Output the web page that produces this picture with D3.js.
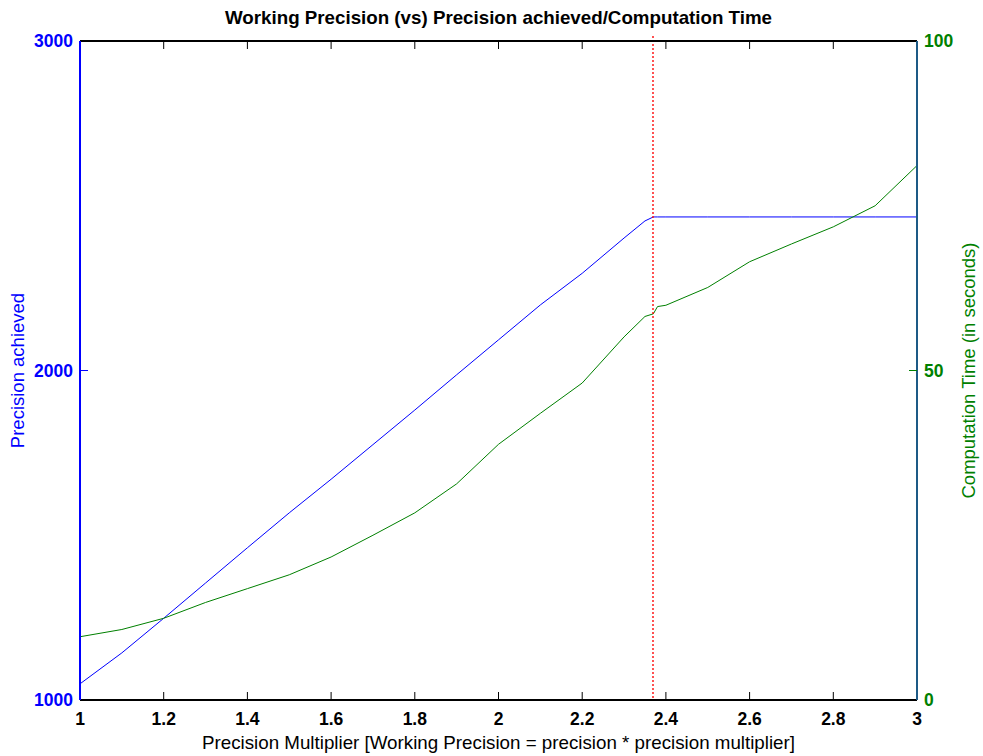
<!DOCTYPE html>
<html>
<script src='https://d3js.org/d3.v7.min.js'></script>
<style>
  body { margin: 0; background: #fff; }
  text { font-family: 'Liberation Sans', Arial, sans-serif; }
</style>
<body>
<div id='vis'></div>
<script>
// precision multiplier samples
const multipliers = [1, 1.1, 1.2, 1.3, 1.4, 1.5, 1.6, 1.7, 1.8, 1.9, 2.0, 2.1, 2.2, 2.3, 2.35, 2.37, 2.38, 2.4, 2.5, 2.6, 2.7, 2.8, 2.9, 3.0];
// precision achieved (left axis)
const precision = [1049, 1143, 1248, 1355, 1462, 1568, 1670, 1775, 1880, 1987, 2093, 2199, 2295, 2402, 2454, 2466, 2466, 2466, 2466, 2466, 2466, 2466, 2466, 2466];
// computation time in seconds (right axis)
const compTime = [9.6, 10.7, 12.4, 14.8, 16.9, 19.0, 21.7, 25.0, 28.4, 32.8, 38.8, 43.5, 48.1, 55.1, 58.2, 58.6, 59.7, 59.9, 62.6, 66.5, 69.2, 71.8, 75.0, 81.1];
const cutoff = 2.37;

const xTicks = [1, 1.2, 1.4, 1.6, 1.8, 2, 2.2, 2.4, 2.6, 2.8, 3];
const leftTicks = [1000, 2000, 3000];
const rightTicks = [0, 50, 100];

const W = 983, H = 756;
const m = {top: 41, right: 66, bottom: 56, left: 80};
const iw = W - m.left - m.right, ih = H - m.top - m.bottom;

const svg = d3.select('#vis').append('svg').attr('width', W).attr('height', H);
const g = svg.append('g').attr('transform', `translate(${m.left},${m.top})`);

const x = d3.scaleLinear().domain([1, 3]).range([0, iw]);
const yL = d3.scaleLinear().domain([1000, 3000]).range([ih, 0]);
const yR = d3.scaleLinear().domain([0, 100]).range([ih, 0]);

const blue = '#0000ff', green = '#008000';

// lines
g.append('path').datum(multipliers)
  .attr('fill', 'none').attr('stroke', blue).attr('stroke-width', 1)
  .attr('d', d3.line().x(d => x(d)).y((d, i) => yL(precision[i])));
g.append('path').datum(multipliers)
  .attr('fill', 'none').attr('stroke', green).attr('stroke-width', 1)
  .attr('d', d3.line().x(d => x(d)).y((d, i) => yR(compTime[i])));

// cutoff marker
const cx = Math.round(x(cutoff));
g.append('line')
  .attr('x1', cx).attr('x2', cx).attr('y1', -5).attr('y2', ih)
  .attr('stroke', '#ff0000').attr('stroke-width', 1.6).attr('stroke-dasharray', '2,2')
  .attr('stroke-opacity', 0.85);

// x axis bottom + top ticks
const tickLen = 8;
g.selectAll('.xtb').data(xTicks.slice(1, -1)).enter()
  .append('line').attr('x1', d => x(d)).attr('x2', d => x(d))
  .attr('y1', ih).attr('y2', ih - tickLen).attr('stroke', '#000');
g.selectAll('.xtt').data(xTicks.slice(1, -1)).enter()
  .append('line').attr('x1', d => x(d)).attr('x2', d => x(d))
  .attr('y1', 0).attr('y2', tickLen).attr('stroke', '#000');

g.append('line').attr('x1', 0).attr('x2', iw).attr('y1', ih).attr('y2', ih)
  .attr('stroke', '#000').attr('stroke-width', 2);
g.append('line').attr('x1', 0).attr('x2', iw).attr('y1', 0).attr('y2', 0)
  .attr('stroke', '#000').attr('stroke-width', 2);

g.selectAll('.xl').data(xTicks).enter().append('text')
  .attr('x', d => x(d)).attr('y', ih + 25)
  .attr('text-anchor', 'middle').attr('font-size', 17.5).attr('font-weight', 'bold')
  .attr('fill', '#000').text(d => d3.format('~g')(d));

// left axis
g.append('line').attr('x1', 0).attr('x2', 0).attr('y1', 0).attr('y2', ih)
  .attr('stroke', blue).attr('stroke-width', 2);
g.selectAll('.ylt').data(leftTicks.slice(1, -1)).enter().append('line')
  .attr('x1', 0).attr('x2', tickLen).attr('y1', d => yL(d)).attr('y2', d => yL(d))
  .attr('stroke', blue);
g.selectAll('.yl').data(leftTicks).enter().append('text')
  .attr('x', -7).attr('y', d => yL(d)).attr('dy', '0.36em')
  .attr('text-anchor', 'end').attr('font-size', 17.5).attr('font-weight', 'bold')
  .attr('fill', blue).text(d => d);

// right axis
g.append('line').attr('x1', iw).attr('x2', iw).attr('y1', 0).attr('y2', ih)
  .attr('stroke', '#1d5a86').attr('stroke-width', 2);
g.selectAll('.yrt').data(rightTicks.slice(1, -1)).enter().append('line')
  .attr('x1', iw).attr('x2', iw - tickLen).attr('y1', d => yR(d)).attr('y2', d => yR(d))
  .attr('stroke', green);
g.selectAll('.yr').data(rightTicks).enter().append('text')
  .attr('x', iw + 7).attr('y', d => yR(d)).attr('dy', '0.36em')
  .attr('text-anchor', 'start').attr('font-size', 17.5).attr('font-weight', 'bold')
  .attr('fill', green).text(d => d);

// title and labels
svg.append('text').attr('x', m.left + iw / 2).attr('y', 24)
  .attr('text-anchor', 'middle').attr('font-size', 18.5).attr('font-weight', 'bold')
  .attr('textLength', 547).attr('lengthAdjust', 'spacingAndGlyphs')
  .text('Working Precision (vs) Precision achieved/Computation Time');
svg.append('text').attr('x', m.left + iw / 2).attr('y', 749)
  .attr('text-anchor', 'middle').attr('font-size', 18.5)
  .attr('textLength', 593).attr('lengthAdjust', 'spacingAndGlyphs')
  .text('Precision Multiplier [Working Precision = precision * precision multiplier]');
svg.append('text')
  .attr('transform', `translate(24,${m.top + ih / 2}) rotate(-90)`)
  .attr('text-anchor', 'middle').attr('font-size', 18.5).attr('fill', blue)
  .text('Precision achieved');
svg.append('text')
  .attr('transform', `translate(975,${m.top + ih / 2}) rotate(-90)`)
  .attr('text-anchor', 'middle').attr('font-size', 18.5).attr('fill', green)
  .text('Computation Time (in seconds)');
</script>
</body>
</html>
